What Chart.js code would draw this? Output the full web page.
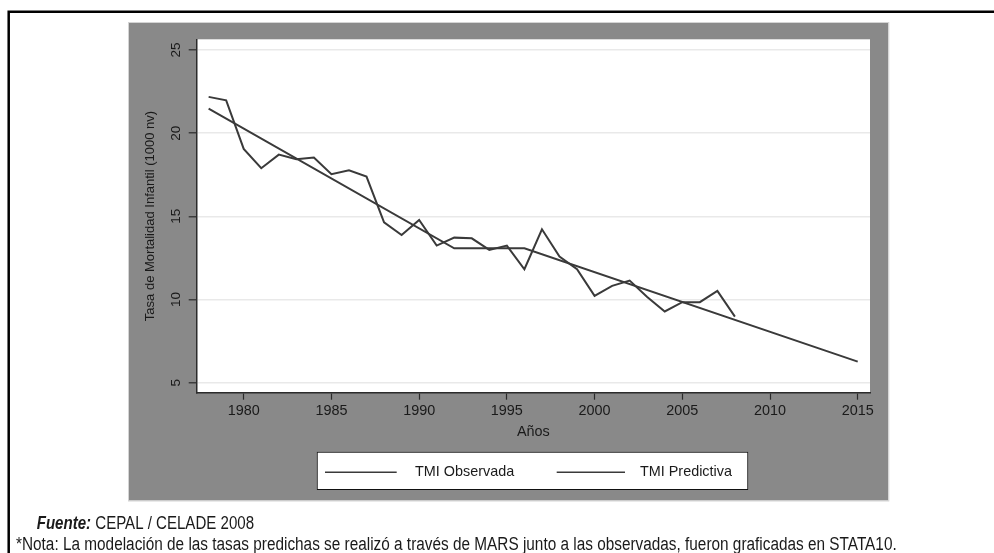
<!DOCTYPE html>
<html>
<head>
<meta charset="utf-8">
<title>Tasa de Mortalidad Infantil</title>
<script src="https://cdn.jsdelivr.net/npm/chart.js@4.4.0/dist/chart.umd.min.js"></script>
<style>
  html, body { margin: 0; padding: 0; background: #fff; }
  #wrap { position: relative; width: 994px; height: 553px; overflow: hidden; }
  canvas { display: block; }
</style>
</head>
<body>
<div id="wrap"><canvas id="chart" width="994" height="553"></canvas></div>
<script>
// Observed infant mortality rate per year
const years = [1978, 1979, 1980, 1981, 1982, 1983, 1984, 1985, 1986, 1987,
               1988, 1989, 1990, 1991, 1992, 1993, 1994, 1995, 1996, 1997,
               1998, 1999, 2000, 2001, 2002, 2003, 2004, 2005, 2006, 2007, 2008];
const observed = [22.18, 21.97, 19.05, 17.89, 18.71, 18.43, 18.53, 17.53, 17.77, 17.39,
                  14.64, 13.88, 14.78, 13.24, 13.72, 13.68, 12.98, 13.24, 11.82, 14.22,
                  12.58, 11.82, 10.22, 10.82, 11.14, 10.15, 9.28, 9.84, 9.84, 10.52, 8.97];

// MARS fit: knots of the piecewise-linear prediction
const predYears = [1978, 1992, 1996, 2015];
const predicted = [21.47, 13.08, 13.08, 6.27];

// Axis ticks and labels
const xTicks = [1980, 1985, 1990, 1995, 2000, 2005, 2010, 2015];
const yTicks = [5, 10, 15, 20, 25];
const seriesNames = ['TMI Observada', 'TMI Predictiva'];
const xTitle = 'Años';
const yTitle = 'Tasa de Mortalidad Infantil (1000 nv)';
const sourceLead = 'Fuente:';
const sourceText = ' CEPAL / CELADE 2008';
const noteText = '*Nota: La modelación de las tasas predichas se realizó a través de MARS junto a las observadas, fueron graficadas en STATA10.';

const SANS = '"Liberation Sans", Arial, Helvetica, sans-serif';
const NARROW = '"Liberation Sans Narrow", "Arial Narrow", "Liberation Sans", sans-serif';
const INK = '#1a1a1a';
const LINE = '#3a3a3a';
const PANEL = '#898989';

// Draw text parts on one baseline, squeezed horizontally to a given width
function fitText(ctx, parts, x, y, width) {
  let total = 0;
  parts.forEach(p => { ctx.font = p.font; total += ctx.measureText(p.text).width; });
  ctx.save();
  ctx.translate(x, y);
  ctx.scale(width / total, 1);
  ctx.textAlign = 'left';
  ctx.textBaseline = 'alphabetic';
  ctx.fillStyle = INK;
  let cx = 0;
  parts.forEach(p => {
    ctx.font = p.font;
    ctx.fillText(p.text, cx, 0);
    cx += ctx.measureText(p.text).width;
  });
  ctx.restore();
}

const graphPanel = {
  id: 'graphPanel',
  beforeDraw(chart) {
    const ctx = chart.ctx;
    const a = chart.chartArea;
    ctx.save();
    ctx.fillStyle = '#fff';
    ctx.fillRect(0, 0, chart.width, chart.height);
    // outer frame (open to the right and bottom)
    ctx.strokeStyle = '#000';
    ctx.lineWidth = 2.5;
    ctx.beginPath();
    ctx.moveTo(8.7, chart.height + 2);
    ctx.lineTo(8.7, 11.7);
    ctx.lineTo(chart.width + 2, 11.7);
    ctx.stroke();
    // grey graph region
    ctx.fillStyle = PANEL;
    ctx.fillRect(129, 23, 759.3, 477.5);
    ctx.strokeStyle = '#d4d4d4';
    ctx.lineWidth = 1;
    ctx.strokeRect(128.5, 22.5, 760.3, 478.5);
    // white plot region
    ctx.fillStyle = '#fff';
    ctx.fillRect(a.left, a.top, a.right - a.left, a.bottom - a.top);
    ctx.restore();
  },
  afterDraw(chart) {
    const ctx = chart.ctx;
    const ys = chart.scales.y;
    const a = chart.chartArea;
    ctx.save();
    // rotated y tick labels
    ctx.fillStyle = INK;
    ctx.font = '13.5px ' + SANS;
    ctx.textAlign = 'center';
    ctx.textBaseline = 'middle';
    ys.ticks.forEach(t => {
      const py = ys.getPixelForValue(t.value);
      ctx.save();
      ctx.translate(a.left - 20, py);
      ctx.rotate(-Math.PI / 2);
      ctx.fillText(String(t.value), 0, 0);
      ctx.restore();
    });

    // legend
    const box = { x: 316.7, y: 451.7, w: 431.6, h: 38.3 };
    ctx.fillStyle = '#fff';
    ctx.fillRect(box.x, box.y, box.w, box.h);
    ctx.strokeStyle = '#111';
    ctx.lineWidth = 1;
    ctx.strokeRect(box.x + 0.5, box.y + 0.5, box.w - 1, box.h - 1);
    const cy = 472.3;
    const slots = [{ x0: 325, x1: 396.7, tx: 415 }, { x0: 556.7, x1: 625, tx: 640 }];
    chart.data.datasets.forEach((ds, i) => {
      const s = slots[i];
      ctx.strokeStyle = ds.borderColor;
      ctx.lineWidth = 1.4;
      ctx.beginPath();
      ctx.moveTo(s.x0, cy);
      ctx.lineTo(s.x1, cy);
      ctx.stroke();
      ctx.fillStyle = INK;
      ctx.font = '14.4px ' + SANS;
      ctx.textAlign = 'left';
      ctx.textBaseline = 'middle';
      ctx.fillText(ds.label, s.tx, cy);
    });

    // source and note
    fitText(ctx, [
      { text: sourceLead, font: 'italic bold 18px ' + NARROW },
      { text: sourceText, font: '18px ' + NARROW }
    ], 36.7, 529, 217.3);
    fitText(ctx, [{ text: noteText, font: '18px ' + NARROW }], 16, 549.5, 880.7);
    ctx.restore();
  }
};

new Chart(document.getElementById('chart'), {
  type: 'line',
  data: {
    datasets: [
      {
        label: seriesNames[0],
        data: years.map((yr, i) => ({ x: yr, y: observed[i] })),
        borderColor: LINE,
        borderWidth: 2,
        pointRadius: 0,
        fill: false
      },
      {
        label: seriesNames[1],
        data: predYears.map((yr, i) => ({ x: yr, y: predicted[i] })),
        borderColor: LINE,
        borderWidth: 2,
        pointRadius: 0,
        fill: false
      }
    ]
  },
  options: {
    responsive: false,
    animation: false,
    devicePixelRatio: 1,
    layout: { padding: { left: 130, right: 124, top: 39.3, bottom: 100.3 } },
    elements: { line: { tension: 0 } },
    plugins: { legend: { display: false }, tooltip: { enabled: false } },
    scales: {
      x: {
        type: 'linear',
        min: 1977.32,
        max: 2015.7,
        afterBuildTicks: s => { s.ticks = xTicks.map(v => ({ value: v })); },
        afterFit: s => { s.height = 60; },
        grid: { drawOnChartArea: false, drawTicks: true, tickLength: 7, tickColor: '#2b2b2b', tickWidth: 1.2 },
        border: { display: true, color: '#2b2b2b', width: 1.5 },
        ticks: {
          color: INK,
          font: { family: SANS, size: 14.4 },
          padding: 3,
          maxRotation: 0,
          autoSkip: false,
          callback: v => String(v)
        },
        title: {
          display: true,
          text: xTitle,
          color: INK,
          font: { family: SANS, size: 14.4 },
          padding: { top: 0, bottom: 12 }
        }
      },
      y: {
        type: 'linear',
        min: 4.4,
        max: 25.64,
        afterBuildTicks: s => { s.ticks = yTicks.map(v => ({ value: v })); },
        afterFit: s => { s.width = 66.7; },
        grid: { color: '#e9e9e9', lineWidth: 1.6, drawTicks: true, tickLength: 8, tickColor: '#2b2b2b', tickWidth: 1.2 },
        border: { display: true, color: '#2b2b2b', width: 1.5 },
        ticks: { display: false },
        title: {
          display: true,
          text: yTitle,
          color: INK,
          font: { family: SANS, size: 13 },
          padding: { top: 12.2, bottom: 0 }
        }
      }
    }
  },
  plugins: [graphPanel]
});
</script>
</body>
</html>
